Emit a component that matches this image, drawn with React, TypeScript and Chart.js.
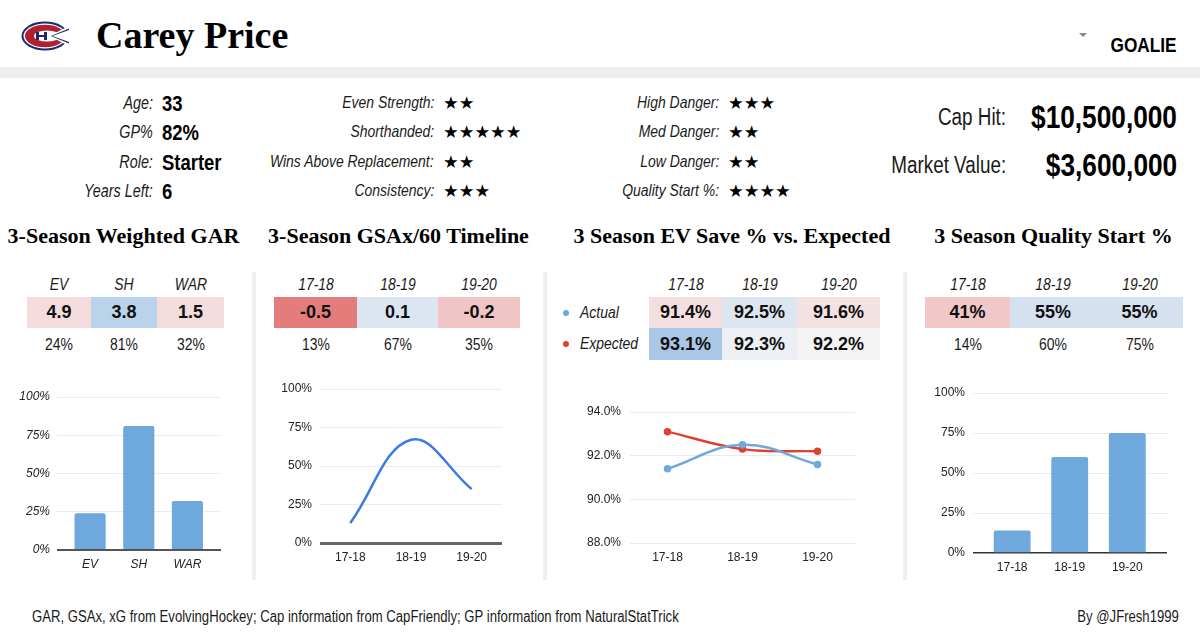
import React, { useEffect, useRef } from "react";
import { Chart, registerables } from "chart.js";
Chart.register(...registerables);

// ---------------- data ----------------
const playerName = "Carey Price";
const positionLabel = "GOALIE";
const bioLabels = ["Age:", "GP%", "Role:", "Years Left:"];
const bioValues = ["33", "82%", "Starter", "6"];
const ratingLabelsA = ["Even Strength:", "Shorthanded:", "Wins Above Replacement:", "Consistency:"];
const ratingStarsA = [2, 5, 2, 3];
const ratingLabelsB = ["High Danger:", "Med Danger:", "Low Danger:", "Quality Start %:"];
const ratingStarsB = [3, 2, 2, 4];
const contractLabels = ["Cap Hit:", "Market Value:"];
const contractValues = ["$10,500,000", "$3,600,000"];
const panelTitles = [
  "3-Season Weighted GAR",
  "3-Season GSAx/60 Timeline",
  "3 Season EV Save % vs. Expected",
  "3 Season Quality Start %",
];
const garCategories = ["EV", "SH", "WAR"];
const garValues = ["4.9", "3.8", "1.5"];
const garPercentiles = [24, 81, 32];
const seasons = ["17-18", "18-19", "19-20"];
const gsaxValues = ["-0.5", "0.1", "-0.2"];
const gsaxPercentiles = [13, 67, 35];
const evSeriesNames = ["Actual", "Expected"];
const evActual = [91.4, 92.5, 91.6];
const evExpected = [93.1, 92.3, 92.2];
const qsValues = ["41%", "55%", "55%"];
const qsPercentiles = [14, 60, 75];
const pctTicks = [0, 25, 50, 75, 100];
const svTicks = [88, 90, 92, 94];
const footerSources =
  "GAR, GSAx, xG from EvolvingHockey; Cap information from CapFriendly; GP information from NaturalStatTrick";
const footerCredit = "By @JFresh1999";

// ---------------- styles ----------------
const garCellColors = ["#f4dcdc", "#b9d3ea", "#f2dcdc"];
const gsaxCellColors = ["#e47c7c", "#dce6f1", "#efc5c5"];
const evActualCellColors = ["#f4dfe0", "#dde5f0", "#f3e2e2"];
const evExpectedCellColors = ["#a8c8e6", "#eceff3", "#f3f3f3"];
const qsCellColors = ["#f0c8c8", "#d5e1ee", "#d5e1ee"];
const BAR_BLUE = "#6fa8dc";
const LINE_BLUE = "#3c7ce0";
const SV_BLUE = "#6fa8dc";
const SV_RED = "#e0412f";

const SERIF = "'Liberation Serif', 'Times New Roman', serif";
const SANS = "'Liberation Sans', Arial, sans-serif";
const NARROW_SCALE = 0.82;

Chart.defaults.font.family = SANS;

type TProps = {
  x: number;
  y: number;
  children: React.ReactNode;
  size?: number;
  weight?: number;
  italic?: boolean;
  family?: string;
  narrow?: boolean;
  align?: "left" | "right" | "center";
  color?: string;
};

function T({ x, y, children, size = 16, weight = 400, italic = false, family = SANS, narrow = true, align = "left", color = "#1a1a1a" }: TProps) {
  const h = Math.round(size * 2);
  const style: React.CSSProperties = {
    position: "absolute",
    top: y - h / 2,
    height: h,
    lineHeight: h + "px",
    fontSize: size,
    fontWeight: weight,
    fontStyle: italic ? "italic" : "normal",
    fontFamily: family,
    color,
    whiteSpace: "nowrap",
  };
  if (align === "left") style.left = x;
  else if (align === "right") style.right = 1200 - x;
  else {
    style.left = x - 300;
    style.width = 600;
    style.textAlign = "center";
  }
  if (narrow) {
    style.transform = `scaleX(${NARROW_SCALE})`;
    style.transformOrigin = align === "left" ? "left center" : align === "right" ? "right center" : "center center";
  }
  return <div style={style}>{children}</div>;
}

function Cell({ x0, x1, y0, y1, bg, text }: { x0: number; x1: number; y0: number; y1: number; bg: string; text: string }) {
  return (
    <div
      style={{
        position: "absolute",
        left: x0,
        top: y0,
        width: x1 - x0,
        height: y1 - y0,
        background: bg,
        lineHeight: y1 - y0 + "px",
        textAlign: "center",
        fontFamily: SANS,
        fontWeight: 700,
        fontSize: 18,
        color: "#111",
      }}
    >
      {text}
    </div>
  );
}

function ChartBox({ left, top, width, height, build }: { left: number; top: number; width: number; height: number; build: () => any }) {
  const ref = useRef<HTMLCanvasElement>(null);
  useEffect(() => {
    const chart = new Chart(ref.current as HTMLCanvasElement, build());
    return () => chart.destroy();
  }, []);
  return (
    <div style={{ position: "absolute", left, top, width, height }}>
      <canvas ref={ref} width={width} height={height} style={{ display: "block", width, height }} />
    </div>
  );
}

function pctY(w: number, pad: number, italic: boolean, baseColor: string, baseWidth: number) {
  return {
    min: 0,
    max: 100,
    afterFit: (s: any) => {
      s.width = w;
    },
    afterBuildTicks: (s: any) => {
      s.ticks = pctTicks.map((v) => ({ value: v }));
    },
    ticks: {
      padding: pad,
      callback: (v: any) => v + "%",
      font: { size: 12, style: italic ? "italic" : "normal" },
      color: "#222",
    },
    grid: {
      drawTicks: false,
      color: (c: any) => (c.tick && c.tick.value === 0 ? baseColor : "#ebebeb"),
      lineWidth: (c: any) => (c.tick && c.tick.value === 0 ? baseWidth : 1),
    },
    border: { display: false },
  };
}

function barX(labels: string[], h: number, pad: number, italic: boolean) {
  return {
    type: "linear",
    min: -0.68,
    max: 2.69,
    offset: false,
    afterFit: (s: any) => {
      s.height = h;
    },
    afterBuildTicks: (s: any) => {
      s.ticks = labels.map((_, i) => ({ value: i }));
    },
    ticks: {
      padding: pad,
      autoSkip: false,
      maxRotation: 0,
      callback: (v: any) => labels[v] ?? "",
      font: { size: 12, style: italic ? "italic" : "normal" },
      color: "#222",
    },
    grid: { display: false, drawTicks: false },
    border: { display: false },
  };
}

function catX(h: number, pad: number) {
  return {
    type: "category",
    offset: true,
    afterFit: (s: any) => {
      s.height = h;
    },
    ticks: { padding: pad, autoSkip: false, maxRotation: 0, font: { size: 12 }, color: "#222" },
    grid: { display: false, drawTicks: false },
    border: { display: false },
  };
}

const baseOpts = (padding: any) => ({
  responsive: false,
  animation: false,
  devicePixelRatio: 1,
  layout: { padding },
  plugins: { legend: { display: false }, tooltip: { enabled: false } },
});

function barConfig(labels: string[], values: number[], yW: number, xH: number, padding: any, italic: boolean, baseColor: string, baseWidth: number, xPad: number, yPad: number) {
  return {
    type: "bar",
    data: {
      datasets: [
        {
          data: values.map((y, i) => ({ x: i, y })),
          backgroundColor: BAR_BLUE,
          barPercentage: 0.64,
          categoryPercentage: 1,
          borderRadius: { topLeft: 2, topRight: 2, bottomLeft: 0, bottomRight: 0 },
          borderSkipped: false,
        },
      ],
    },
    options: {
      ...baseOpts(padding),
      scales: {
        x: barX(labels, xH, xPad, italic),
        y: pctY(yW, yPad, italic, baseColor, baseWidth),
      },
    },
  };
}

function Logo() {
  return (
    <svg width={48} height={30} viewBox="0 0 48 30" style={{ position: "absolute", left: 21, top: 21 }}>
      <ellipse cx={24} cy={15} rx={23.5} ry={14.5} fill="#1c2a6b" />
      <ellipse cx={24} cy={15} rx={21.5} ry={12.5} fill="#ffffff" />
      <ellipse cx={24} cy={15} rx={20} ry={11.2} fill="#b0202f" />
      <ellipse cx={26} cy={15} rx={13} ry={5.6} fill="#ffffff" />
      <polygon points="28,15 48,5 48,25" fill="#ffffff" />
      <polygon points="30,15 48,7.5 48,22.5" fill="#1c2a6b" />
      <polygon points="31.5,15 48,9 48,21" fill="#ffffff" />
      <rect x={15} y={11} width={3} height={8} fill="#1c2a6b" />
      <rect x={23} y={11} width={3} height={8} fill="#1c2a6b" />
      <rect x={18} y={14} width={5} height={2} fill="#1c2a6b" />
    </svg>
  );
}

const rowY = [103, 132, 162, 191];

export default function App() {
  const gsaxCfg = () => ({
    type: "line",
    data: {
      labels: seasons,
      datasets: [
        {
          data: gsaxPercentiles,
          borderColor: LINE_BLUE,
          borderWidth: 2.5,
          pointRadius: 0,
          tension: 0.4,
          fill: false,
        },
      ],
    },
    options: {
      ...baseOpts({ top: 19, right: 24, left: 0, bottom: 0 }),
      scales: { x: catX(37, 7), y: pctY(64, 8, false, "#666", 3) },
    },
  });

  const svCfg = () => ({
    type: "line",
    data: {
      labels: seasons,
      datasets: [
        {
          label: evSeriesNames[0],
          data: evActual,
          borderColor: SV_BLUE,
          backgroundColor: SV_BLUE,
          borderWidth: 2.5,
          pointRadius: 2.5,
          tension: 0.4,
          fill: false,
        },
        {
          label: evSeriesNames[1],
          data: evExpected,
          borderColor: SV_RED,
          backgroundColor: SV_RED,
          borderWidth: 2.5,
          pointRadius: 2.5,
          tension: 0.4,
          fill: false,
        },
      ],
    },
    options: {
      ...baseOpts({ top: 22, right: 23, left: 0, bottom: 0 }),
      scales: {
        x: catX(37, 7),
        y: {
          min: 88,
          max: 94,
          afterFit: (s: any) => {
            s.width = 82;
          },
          afterBuildTicks: (s: any) => {
            s.ticks = svTicks.map((v) => ({ value: v }));
          },
          ticks: { padding: 9, callback: (v: any) => Number(v).toFixed(1) + "%", font: { size: 12 }, color: "#222" },
          grid: { drawTicks: false, color: "#ebebeb", lineWidth: 1 },
          border: { display: false },
        },
      },
    },
  });

  const colCenters1 = [59, 124, 190.5];
  const colX1 = [27, 91, 157, 224];
  const colCenters2 = [315.5, 397.5, 479];
  const colX2 = [274, 357, 438, 520];
  const colCenters3 = [685.5, 759.5, 838.5];
  const colX3 = [649, 722, 797, 880];
  const colCenters4 = [967.5, 1053, 1139.5];
  const colX4 = [925, 1010, 1096, 1183];

  return (
    <div style={{ position: "absolute", left: 0, top: 0, width: 1200, height: 642, overflow: "hidden", background: "#fff" }}>
      {/* header */}
      <Logo />
      <T x={96} y={35} size={38} weight={700} family={SERIF} narrow={false} color="#000">
        {playerName}
      </T>
      <div
        style={{
          position: "absolute",
          left: 1079,
          top: 33,
          width: 0,
          height: 0,
          borderLeft: "4px solid transparent",
          borderRight: "4px solid transparent",
          borderTop: "4px solid #888",
        }}
      />
      <T x={1177} y={45} size={21} weight={700} align="right" color="#000">
        {positionLabel}
      </T>
      <div style={{ position: "absolute", left: 0, top: 67, width: 1200, height: 11, background: "#eeeeee" }} />

      {/* bio */}
      {bioLabels.map((l, i) => (
        <T key={"bl" + i} x={153} y={rowY[i]} size={17.5} italic align="right">
          {l}
        </T>
      ))}
      {bioValues.map((v, i) => (
        <T key={"bv" + i} x={162} y={rowY[i]} size={22.5} weight={700} color="#000">
          {v}
        </T>
      ))}
      {ratingLabelsA.map((l, i) => (
        <T key={"ra" + i} x={434} y={rowY[i]} size={17} italic align="right">
          {l}
        </T>
      ))}
      {ratingStarsA.map((n, i) => (
        <T key={"sa" + i} x={443} y={rowY[i]} size={17.5} family="'DejaVu Sans', sans-serif" narrow={false} color="#000">
          {"★".repeat(n)}
        </T>
      ))}
      {ratingLabelsB.map((l, i) => (
        <T key={"rb" + i} x={719} y={rowY[i]} size={17} italic align="right">
          {l}
        </T>
      ))}
      {ratingStarsB.map((n, i) => (
        <T key={"sb" + i} x={728} y={rowY[i]} size={17.5} family="'DejaVu Sans', sans-serif" narrow={false} color="#000">
          {"★".repeat(n)}
        </T>
      ))}
      {contractLabels.map((l, i) => (
        <T key={"cl" + i} x={1006} y={[117, 165][i]} size={23} align="right">
          {l}
        </T>
      ))}
      {contractValues.map((v, i) => (
        <T key={"cv" + i} x={1177} y={[117, 165][i]} size={32} weight={700} align="right" color="#000">
          {v}
        </T>
      ))}

      {/* titles */}
      {panelTitles.map((t, i) => (
        <T key={"pt" + i} x={[123.5, 398.5, 732, 1053.5][i]} y={236} size={22} weight={700} family={SERIF} narrow={false} align="center" color="#000">
          {t}
        </T>
      ))}

      {/* dividers */}
      {[252, 543, 903].map((x, i) => (
        <div key={"dv" + i} style={{ position: "absolute", left: x, top: 272, width: 4, height: 308, background: "#f0f0f0" }} />
      ))}

      {/* panel 1 table */}
      {garCategories.map((c, i) => (
        <T key={"gh" + i} x={colCenters1[i]} y={285} size={17} italic align="center">
          {c}
        </T>
      ))}
      {garValues.map((v, i) => (
        <Cell key={"gc" + i} x0={colX1[i]} x1={colX1[i + 1]} y0={297} y1={328} bg={garCellColors[i]} text={v} />
      ))}
      {garPercentiles.map((p, i) => (
        <T key={"gp" + i} x={colCenters1[i]} y={345} size={17} align="center">
          {p + "%"}
        </T>
      ))}

      {/* panel 2 table */}
      {seasons.map((c, i) => (
        <T key={"sh" + i} x={colCenters2[i]} y={285} size={17} italic align="center">
          {c}
        </T>
      ))}
      {gsaxValues.map((v, i) => (
        <Cell key={"sc" + i} x0={colX2[i]} x1={colX2[i + 1]} y0={297} y1={328} bg={gsaxCellColors[i]} text={v} />
      ))}
      {gsaxPercentiles.map((p, i) => (
        <T key={"sp" + i} x={colCenters2[i]} y={345} size={17} align="center">
          {p + "%"}
        </T>
      ))}

      {/* panel 3 table */}
      {seasons.map((c, i) => (
        <T key={"eh" + i} x={colCenters3[i]} y={285} size={17} italic align="center">
          {c}
        </T>
      ))}
      {evActual.map((v, i) => (
        <Cell key={"ea" + i} x0={colX3[i]} x1={colX3[i + 1]} y0={297} y1={328} bg={evActualCellColors[i]} text={v.toFixed(1) + "%"} />
      ))}
      {evExpected.map((v, i) => (
        <Cell key={"ee" + i} x0={colX3[i]} x1={colX3[i + 1]} y0={328} y1={360} bg={evExpectedCellColors[i]} text={v.toFixed(1) + "%"} />
      ))}
      {evSeriesNames.map((n, i) => (
        <React.Fragment key={"lg" + i}>
          <div
            style={{
              position: "absolute",
              left: 563,
              top: [313, 344][i] - 3,
              width: 6,
              height: 6,
              borderRadius: 3,
              background: [SV_BLUE, SV_RED][i],
            }}
          />
          <T x={580} y={[313, 344][i]} size={17} italic>
            {n}
          </T>
        </React.Fragment>
      ))}

      {/* panel 4 table */}
      {seasons.map((c, i) => (
        <T key={"qh" + i} x={colCenters4[i]} y={285} size={17} italic align="center">
          {c}
        </T>
      ))}
      {qsValues.map((v, i) => (
        <Cell key={"qc" + i} x0={colX4[i]} x1={colX4[i + 1]} y0={297} y1={328} bg={qsCellColors[i]} text={v} />
      ))}
      {qsPercentiles.map((p, i) => (
        <T key={"qp" + i} x={colCenters4[i]} y={345} size={17} align="center">
          {p + "%"}
        </T>
      ))}

      {/* charts */}
      <ChartBox
        left={0}
        top={380}
        width={240}
        height={200}
        build={() => barConfig(garCategories, garPercentiles, 57, 30, { top: 17, right: 19, left: 0, bottom: 0 }, true, "#555", 2, 7, 7)}
      />
      <ChartBox left={256} top={370} width={270} height={210} build={gsaxCfg} />
      <ChartBox left={548} top={390} width={330} height={190} build={svCfg} />
      <ChartBox
        left={908}
        top={375}
        width={285}
        height={210}
        build={() => barConfig(seasons, qsPercentiles, 65, 32, { top: 18, right: 26, left: 0, bottom: 0 }, false, "#333", 1.5, 7, 8)}
      />

      {/* footer */}
      <T x={32} y={617} size={16}>
        {footerSources}
      </T>
      <T x={1179} y={617} size={16} align="right">
        {footerCredit}
      </T>
    </div>
  );
}
